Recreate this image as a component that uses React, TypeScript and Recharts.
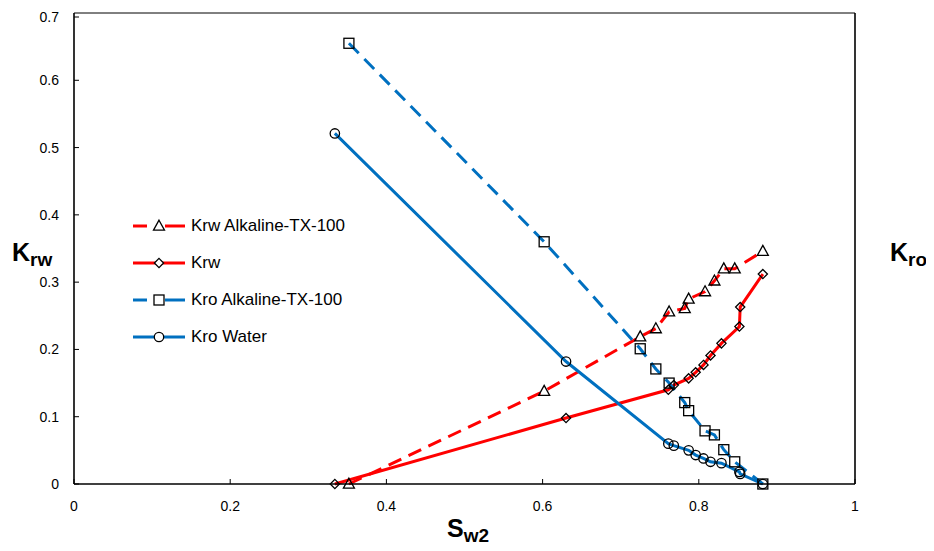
import React from 'react';
import { ComposedChart, Line, XAxis, YAxis, Legend, ReferenceLine } from 'recharts';

// water flood points (diamonds / circles)
const swWater = [0.334, 0.63, 0.761, 0.768, 0.787, 0.796, 0.806, 0.815, 0.829, 0.852, 0.853, 0.882];
const krwWater = [0, 0.098, 0.14, 0.147, 0.157, 0.166, 0.177, 0.191, 0.209, 0.234, 0.263, 0.312];
const kroWater = [0.521, 0.182, 0.06, 0.057, 0.05, 0.043, 0.038, 0.033, 0.031, 0.018, 0.015, 0];

// alkaline-TX-100 points (triangles / squares)
const swAlk = [0.352, 0.602, 0.725, 0.745, 0.762, 0.782, 0.787, 0.808, 0.82, 0.832, 0.846, 0.882];
const krwAlk = [0, 0.138, 0.219, 0.231, 0.256, 0.261, 0.275, 0.286, 0.302, 0.32, 0.32, 0.346];
const kroAlk = [0.655, 0.36, 0.201, 0.171, 0.15, 0.121, 0.109, 0.079, 0.073, 0.051, 0.033, 0];

const xTicks = [0, 0.2, 0.4, 0.6, 0.8, 1];
const yTicks = [0, 0.1, 0.2, 0.3, 0.4, 0.5, 0.6, 0.7];
const xTickLabels = ['0', '0.2', '0.4', '0.6', '0.8', '1'];
const yTickLabels = ['0', '0.1', '0.2', '0.3', '0.4', '0.5', '0.6', '0.7'];

const seriesNames = ['Krw Alkaline-TX-100', 'Krw', 'Kro Alkaline-TX-100', 'Kro Water'];

const waterRows = swWater.map((x, i) => ({ x, krw: krwWater[i], kro: kroWater[i] }));
const alkRows = swAlk.map((x, i) => ({ x, krw: krwAlk[i], kro: kroAlk[i] }));

const RED = '#FF0000';
const BLUE = '#0070C0';
const FONT = '"Liberation Sans", Arial, sans-serif';
const DASH = '14 8';
const TICK_FONT = 14;

type Shape = 'triangle' | 'diamond' | 'square' | 'circle';

function Marker({ shape, cx, cy, fill }: { shape: Shape; cx: number; cy: number; fill: string }) {
  const st = { stroke: '#000', strokeWidth: 1.3, fill };
  if (shape === 'triangle') {
    return <polygon points={`${cx},${cy - 5.8} ${cx + 5.5},${cy + 4.2} ${cx - 5.5},${cy + 4.2}`} {...st} />;
  }
  if (shape === 'diamond') {
    return <polygon points={`${cx},${cy - 4.6} ${cx + 4.6},${cy} ${cx},${cy + 4.6} ${cx - 4.6},${cy}`} {...st} />;
  }
  if (shape === 'square') {
    return <rect x={cx - 5} y={cy - 5} width={10} height={10} {...st} />;
  }
  return <circle cx={cx} cy={cy} r={4.7} {...st} />;
}

const dotFor = (shape: Shape) => (props: any) => (
  <Marker key={`${shape}-${props.index}`} shape={shape} cx={props.cx} cy={props.cy} fill="none" />
);

const legendItems: { name: string; color: string; dashed: boolean; shape: Shape }[] = [
  { name: seriesNames[0], color: RED, dashed: true, shape: 'triangle' },
  { name: seriesNames[1], color: RED, dashed: false, shape: 'diamond' },
  { name: seriesNames[2], color: BLUE, dashed: true, shape: 'square' },
  { name: seriesNames[3], color: BLUE, dashed: false, shape: 'circle' },
];

const renderLegend = () => (
  <div style={{ fontFamily: FONT, fontSize: 17, color: '#000' }}>
    {legendItems.map((it) => (
      <div key={it.name} style={{ display: 'flex', alignItems: 'center', height: 37 }}>
        <svg width={54} height={16} style={{ overflow: 'visible' }}>
          {it.dashed ? (
            <g>
              <line x1={0} y1={8} x2={14} y2={8} stroke={it.color} strokeWidth={3} />
              <line x1={32} y1={8} x2={52} y2={8} stroke={it.color} strokeWidth={3} />
            </g>
          ) : (
            <line x1={0} y1={8} x2={52} y2={8} stroke={it.color} strokeWidth={3} />
          )}
          <Marker shape={it.shape} cx={26} cy={8} fill="#fff" />
        </svg>
        <span style={{ marginLeft: 4 }}>{it.name}</span>
      </div>
    ))}
  </div>
);

const LeftTick = (props: any) => {
  const { x, y, index } = props;
  return (
    <g>
      <line x1={x + 15} y1={y} x2={x + 20} y2={y} stroke="#000" strokeWidth={1} />
      <text x={x} y={y} dy={5} textAnchor="end" fontFamily={FONT} fontSize={TICK_FONT} fill="#000">
        {yTickLabels[index]}
      </text>
    </g>
  );
};

const RightTick = (props: any) => {
  const { x, y, index } = props;
  return (
    <g>
      <line x1={x - 15} y1={y} x2={x - 20} y2={y} stroke="#000" strokeWidth={1} />
      <text x={x} y={y} dy={5} textAnchor="start" fontFamily={FONT} fontSize={TICK_FONT} fill="#000">
        {yTickLabels[index]}
      </text>
    </g>
  );
};

const BottomTick = (props: any) => {
  const { x, y, index } = props;
  return (
    <g>
      <line x1={x} y1={y - 14} x2={x} y2={y - 19} stroke="#000" strokeWidth={1} />
      <text x={x} y={y} dy={12.5} textAnchor="middle" fontFamily={FONT} fontSize={TICK_FONT} fill="#000">
        {xTickLabels[index]}
      </text>
    </g>
  );
};

const titleStyle: React.CSSProperties = {
  position: 'absolute',
  fontFamily: FONT,
  fontWeight: 700,
  fontSize: 25,
  lineHeight: '24px',
  color: '#000',
  whiteSpace: 'nowrap',
};
const subStyle: React.CSSProperties = { fontSize: 19, verticalAlign: -5 };

export default function App() {
  return (
    <div style={{ position: 'relative', width: 918, height: 535 }}>
      <ComposedChart width={918} height={535} margin={{ top: 5, right: 0, bottom: 0, left: 0 }}>
        <XAxis
          xAxisId="x"
          dataKey="x"
          type="number"
          domain={[0, 1]}
          ticks={xTicks}
          height={59}
          tickSize={0}
          tickMargin={14}
          tick={<BottomTick />}
          axisLine={{ stroke: '#000', strokeWidth: 1.6 }}
          allowDataOverflow
        />
        <YAxis
          yAxisId="left"
          orientation="left"
          type="number"
          domain={[0, 0.7]}
          ticks={yTicks}
          width={66}
          tickSize={0}
          tickMargin={15}
          tick={<LeftTick />}
          axisLine={{ stroke: '#000', strokeWidth: 1.6 }}
        />
        <YAxis
          yAxisId="right"
          orientation="right"
          type="number"
          domain={[0, 0.7]}
          ticks={yTicks}
          width={71}
          tickSize={0}
          tickMargin={15}
          tick={<RightTick />}
          axisLine={{ stroke: '#000', strokeWidth: 1.6 }}
        />
        <ReferenceLine xAxisId="x" yAxisId="left" y={0.7} stroke="#000" strokeWidth={1} />
        <Line
          xAxisId="x"
          yAxisId="left"
          data={alkRows}
          dataKey="krw"
          name={seriesNames[0]}
          type="linear"
          stroke={RED}
          strokeWidth={3}
          strokeDasharray={DASH}
          dot={dotFor('triangle')}
          activeDot={false}
          isAnimationActive={false}
        />
        <Line
          xAxisId="x"
          yAxisId="left"
          data={waterRows}
          dataKey="krw"
          name={seriesNames[1]}
          type="linear"
          stroke={RED}
          strokeWidth={3}
          dot={dotFor('diamond')}
          activeDot={false}
          isAnimationActive={false}
        />
        <Line
          xAxisId="x"
          yAxisId="left"
          data={alkRows}
          dataKey="kro"
          name={seriesNames[2]}
          type="linear"
          stroke={BLUE}
          strokeWidth={3}
          strokeDasharray={DASH}
          dot={dotFor('square')}
          activeDot={false}
          isAnimationActive={false}
        />
        <Line
          xAxisId="x"
          yAxisId="left"
          data={waterRows}
          dataKey="kro"
          name={seriesNames[3]}
          type="linear"
          stroke={BLUE}
          strokeWidth={3}
          dot={dotFor('circle')}
          activeDot={false}
          isAnimationActive={false}
        />
        <Legend
          layout="vertical"
          align="center"
          verticalAlign="middle"
          wrapperStyle={{ left: 125, top: 199, width: 'auto' }}
          content={renderLegend}
        />
      </ComposedChart>
      <div style={{ ...titleStyle, left: 4, top: 232 }}>
        K<span style={subStyle}>rw</span>
      </div>
      <div style={{ ...titleStyle, left: 882, top: 232 }}>
        K<span style={subStyle}>ro</span>
      </div>
      <div style={{ ...titleStyle, left: 439, top: 508 }}>
        S<span style={subStyle}>w2</span>
      </div>
    </div>
  );
}
